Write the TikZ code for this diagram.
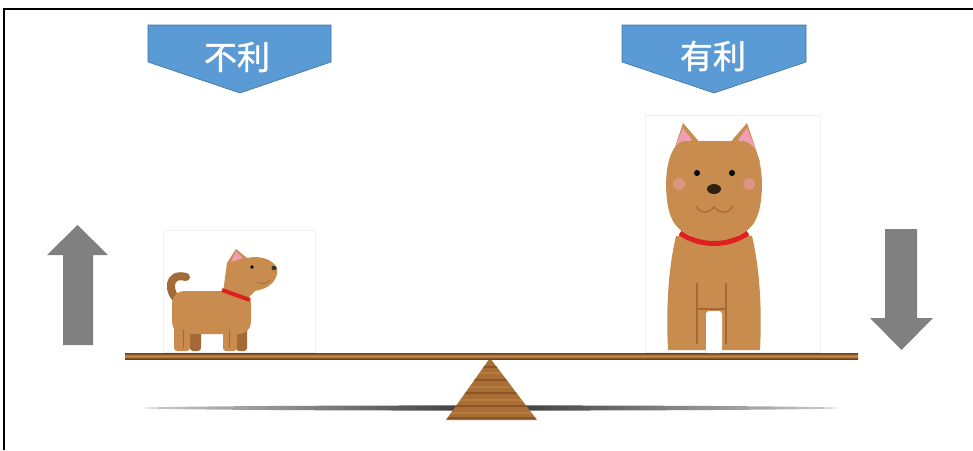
\documentclass[tikz,border=0pt]{standalone}
\usepackage{fontspec}
\newfontfamily\cjk[FakeBold=1.2]{Noto Sans CJK SC}
\definecolor{tagblue}{RGB}{91,155,213}
\definecolor{tagedge}{RGB}{65,113,156}
\definecolor{arrowgray}{RGB}{128,128,128}
\definecolor{fur}{RGB}{200,140,78}
\definecolor{furdark}{RGB}{163,106,55}
\definecolor{collar}{RGB}{222,32,32}
\definecolor{earpink}{RGB}{240,158,178}
\definecolor{wood}{RGB}{168,110,52}
\definecolor{wooddark}{RGB}{110,62,25}
\definecolor{woodlight}{RGB}{196,140,78}
\begin{document}
\begin{tikzpicture}[
			x = 1pt, y = -1pt,
			tag/.style = {fill=tagblue, draw=tagedge, line width=0.6},
			tagtext/.style = {text=white, font=\cjk\fontsize{33}{33}\selectfont, inner sep=0},
			bigarrow/.style = {fill=arrowgray},
			fur/.style = {fill=fur}
		]

		\useasboundingbox (0,0) rectangle (973,450);
		\draw[line width=1.2] (4,450) -- (4,9) -- (973,9);

		% labels
		\draw[tag] (148,25) -- (331,25) -- (331,62) -- (240,93) -- (148,62) -- cycle;
		\node[tagtext] (bad) at (237,57) {不利};
		\draw[tag] (622,25) -- (806,25) -- (806,62) -- (714,93) -- (622,62) -- cycle;
		\node[tagtext] (good) at (713,56) {有利};

		% up and down arrows
		\fill[bigarrow] (63,345) -- (63,255) -- (47,255) -- (77.5,225) -- (108,255) -- (93,255) -- (93,345) -- cycle;
		\fill[bigarrow] (885,229) -- (917,229) -- (917,318) -- (933,318) -- (901.5,350) -- (870,318) -- (885,318) -- cycle;

		% shadow, fulcrum and beam
		\shade[left color=black!20, right color=black!20, middle color=black!80] (491,408) ellipse [x radius=348, y radius=2.6];
		\begin{scope}
			\clip (490,358) -- (537,420) -- (446,420) -- cycle;
			\fill[wood] (440,355) rectangle (540,422);
			\foreach \y/\c in {366/wooddark, 372/woodlight, 379/wooddark, 386/woodlight, 392/wooddark, 399/woodlight, 405/wooddark, 412/woodlight, 417/wooddark}{
				\fill[\c, opacity=0.5] (440,\y) rectangle (540,\y+2.2);
			}
		\end{scope}
		\shade[top color=wooddark, bottom color=wooddark, middle color=woodlight] (125,353) rectangle (858,359);

		% image frames
		\draw[black!6] (163,230) rectangle (315,352);
		\draw[black!6] (645,115) rectangle (820,352);

		% small dog
		\draw[furdark, line width=8, line cap=round] (180,302) .. controls (166,292) and (168,272) .. (186,277);
		\fill[furdark, rounded corners=3] (190,318) rectangle (201,351);
		\fill[furdark, rounded corners=3] (236,318) rectangle (247,351);
		\fill[fur, rounded corners=12] (172,291) rectangle (251,334);
		\fill[fur, rounded corners=3] (174,318) rectangle (190,351);
		\fill[fur, rounded corners=3] (223,318) rectangle (237,351);
		\draw[furdark, line width=1] (183,330) -- (183,348) (229,330) -- (229,348);
		\fill[fur] (222,300) -- (227,263) -- (236,249) -- (247,258)
			.. controls (262,255) and (273,260) .. (277,268)
			.. controls (279,281) and (268,289) .. (255,291) -- (244,302) -- cycle;
		\fill[earpink] (231,262) -- (236,251) -- (243,258) -- cycle;
		\draw[collar, line width=4] (222,290) -- (250,300);
		\fill (252,267) circle (1.8);
		\fill[black!80] (274,268) ellipse [x radius=2.6, y radius=2.2];
		\draw[furdark, line width=0.8] (257,282) .. controls (262,285) and (267,284) .. (270,280);

		% big dog
		\fill[fur] (676,236) -- (752,236) .. controls (760,270) and (762,310) .. (760,350)
			-- (668,350) .. controls (666,310) and (668,270) .. (676,236) -- cycle;
		\fill[white, rounded corners=3] (706,311) rectangle (722,353);
		\draw[furdark, line width=1.2] (697,283) -- (697,344) (726,283) -- (726,344) (697,309) -- (726,309);
		\fill[fur] (670,162) -- (683,123) -- (702,145) -- cycle;
		\fill[fur] (728,145) -- (747,123) -- (760,162) -- cycle;
		\fill[earpink] (675,148) -- (683,128) -- (692,140) -- cycle;
		\fill[earpink] (738,140) -- (747,128) -- (755,148) -- cycle;
		\fill[fur] (684,141) .. controls (668,145) and (664,175) .. (667,200)
			.. controls (670,225) and (680,238) .. (714,240)
			.. controls (748,238) and (758,225) .. (761,200)
			.. controls (764,175) and (760,145) .. (744,141) -- cycle;
		\fill[earpink, opacity=0.5] (679,184) circle (6) (749,184) circle (6);
		\fill (697,173) circle (3) (732,173) circle (3);
		\fill[black!75!brown] (714,189) ellipse [x radius=7, y radius=5];
		\draw[furdark, line width=1.2] (696,206) .. controls (700,214) and (708,214) .. (714,207)
			.. controls (720,214) and (728,214) .. (733,206);
		\draw[collar, line width=5] (680,233) .. controls (700,247) and (728,247) .. (748,233);

		\end{tikzpicture}
\end{document}
